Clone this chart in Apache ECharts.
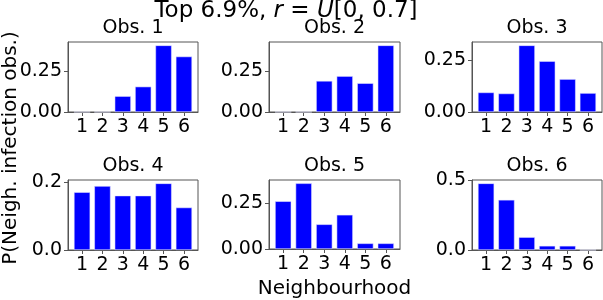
<!DOCTYPE html>
<html>
<head>
<meta charset="utf-8">
<script src="https://cdn.jsdelivr.net/npm/echarts@6/dist/echarts.min.js"></script>
<style>
  html, body { margin: 0; padding: 0; background: #fff; }
  #main { width: 603px; height: 300px; }
</style>
</head>
<body>
<div id="main"></div>
<script>
// neighbourhoods 1..6
const neighbourhoods = [1, 2, 3, 4, 5, 6];
const panelTitles = ['Obs. 1', 'Obs. 2', 'Obs. 3', 'Obs. 4', 'Obs. 5', 'Obs. 6'];

// P(neigh. infection obs.) per panel
const obs1 = [0, 0, 0.098, 0.157, 0.412, 0.343];
const obs2 = [0, 0, 0.189, 0.218, 0.175, 0.405];
const obs3 = [0.094, 0.089, 0.320, 0.244, 0.158, 0.091];
const obs4 = [0.170, 0.188, 0.160, 0.160, 0.196, 0.125];
const obs5 = [0.261, 0.359, 0.135, 0.187, 0.031, 0.031];
const obs6 = [0.477, 0.359, 0.092, 0.030, 0.030, 0];

// y tick values + label decimals
const yTicks = [[0, 0.25], [0, 0.25], [0, 0.25], [0, 0.2], [0, 0.25], [0, 0.5]];
const yDecimals = [2, 2, 2, 1, 2, 1];

const allObs = [obs1, obs2, obs3, obs4, obs5, obs6];

// layout of the 2x3 grid (px)
const colLeft = [68, 269, 472];
const colWidth = [130, 131, 130];
const rowTop = [42, 180];
const rowHeight = [70, 70];

const font = 'DejaVu Sans';
const frameColor = '#555';
const tickFont = 19;

const grids = [], xAxes = [], yAxes = [], series = [], titles = [];

allObs.forEach((vals, i) => {
  const r = Math.floor(i / 3), c = i % 3;
  grids.push({
    left: colLeft[c], top: rowTop[r], width: colWidth[c], height: rowHeight[r],
    show: true, borderColor: frameColor, borderWidth: 1, backgroundColor: 'transparent'
  });
  xAxes.push({
    type: 'value', gridIndex: i, min: 0.31, max: 6.69,
    axisLine: { show: true, lineStyle: { color: frameColor } },
    axisTick: { show: true, length: 4, lineStyle: { color: frameColor }, customValues: neighbourhoods },
    axisLabel: { color: '#000', fontSize: tickFont, fontFamily: font, margin: 6, customValues: neighbourhoods },
    splitLine: { show: false },
    name: i === 4 ? 'Neighbourhood' : '',
    nameLocation: 'middle', nameGap: 30,
    nameTextStyle: { color: '#000', fontSize: 20, fontFamily: font }
  });
  const ymax = Math.max(...vals) * 1.05;
  yAxes.push({
    type: 'value', gridIndex: i, min: 0, max: ymax,
    axisLine: { show: true, lineStyle: { color: frameColor } },
    axisTick: { show: true, length: 4, lineStyle: { color: frameColor }, customValues: yTicks[i] },
    axisLabel: {
      color: '#000', fontSize: tickFont, fontFamily: font, margin: 6,
      customValues: yTicks[i],
      formatter: v => v.toFixed(yDecimals[i])
    },
    splitLine: { show: false }
  });
  series.push({
    type: 'bar', xAxisIndex: i, yAxisIndex: i,
    barWidth: 16.3,
    itemStyle: { color: '#0000ff', borderColor: 'rgba(230,230,255,0.9)', borderWidth: 0.6 },
    data: vals.map((v, k) => [neighbourhoods[k], v])
  });
  titles.push({
    text: panelTitles[i],
    left: colLeft[c] + colWidth[c] / 2, textAlign: 'center',
    top: rowTop[r] - 23, padding: 0,
    textStyle: { fontSize: 19, fontWeight: 'normal', color: '#000', fontFamily: font }
  });
});

titles.push({
  text: 'Top 6.9%, {i|r} = {i|U}[0, 0.7]',
  left: 286, textAlign: 'center', top: 0, padding: 0,
  textStyle: {
    fontSize: 23, fontWeight: 'normal', color: '#000', fontFamily: font,
    rich: { i: { fontSize: 23, fontStyle: 'italic', fontFamily: font, color: '#000' } }
  }
});

const chart = echarts.init(document.getElementById('main'), null, { renderer: 'canvas' });
chart.setOption({
  animation: false,
  backgroundColor: '#fff',
  title: titles,
  grid: grids,
  xAxis: xAxes,
  yAxis: yAxes,
  series: series,
  graphic: [{
    type: 'text', x: 1, y: 148, rotation: Math.PI / 2,
    style: {
      text: 'P(Neigh. infection obs.)', fill: '#000', font: '20px "DejaVu Sans"',
      textAlign: 'center', textVerticalAlign: 'top'
    }
  }]
});
</script>
</body>
</html>
